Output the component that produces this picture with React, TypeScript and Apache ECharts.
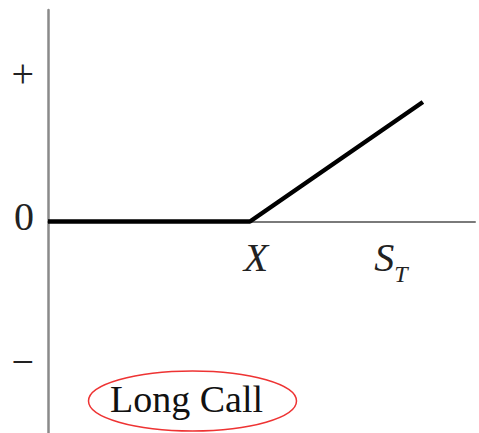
import React, { useEffect, useRef } from "react";
import * as echarts from "echarts";

// Payoff of a long call: flat at 0 until the strike X, then rising
const payoffX = [0, 47.3, 87.8];
const payoffY = [0, 0, 5.65];

// Tick labels (positions along the axes, in data units)
const yTickValues = [-6.6, 0, 7];
const yTickLabels = ["\u2212", "{z|0}", "+"];
const xTickValues = [47.3, 80.3];
const xTickLabels = ["{i|X}", "{s|S}{t|T}"];

const title = "Long Call";

const SERIF = "'Liberation Serif', 'Times New Roman', serif";
const GRID_TOP = 10;
const GRID_BOTTOM = 0;
const H = 433;

export default function App() {
  const ref = useRef<HTMLDivElement>(null);
  useEffect(() => {
    if (!ref.current) return;
    const chart = echarts.init(ref.current, undefined, { renderer: "svg" });
    const yMin = -10;
    const yMax = 10;
    const plotH = H - GRID_TOP - GRID_BOTTOM;
    // distance from grid bottom up to the y = 0 line
    const zeroOffset = (plotH * (0 - yMin)) / (yMax - yMin);
    chart.setOption({
      animation: false,
      backgroundColor: "#ffffff",
      grid: { left: 48, right: 4, top: GRID_TOP, bottom: GRID_BOTTOM, containLabel: false, outerBoundsMode: "none" },
      xAxis: {
        type: "value",
        min: 0,
        max: 100,
        offset: -zeroOffset,
        axisLine: { show: true, onZero: false, lineStyle: { color: "#7a7a7a", width: 2 } },
        axisTick: { show: false },
        splitLine: { show: false },
        axisLabel: {
          show: true,
          customValues: xTickValues,
          margin: 16,
          formatter: (v: number) => {
            const i = xTickValues.findIndex((t) => Math.abs(t - v) < 1e-6);
            return i >= 0 ? xTickLabels[i] : "";
          },
          rich: {
            i: { fontFamily: SERIF, fontStyle: "italic", fontSize: 40, color: "#222", lineHeight: 46, verticalAlign: "top", padding: [0, 0, 0, 12] },
            s: { fontFamily: SERIF, fontStyle: "italic", fontSize: 40, color: "#222", lineHeight: 48, verticalAlign: "top" },
            t: { fontFamily: SERIF, fontStyle: "italic", fontSize: 24, color: "#222", lineHeight: 48, verticalAlign: "bottom" },
          },
        },
      },
      yAxis: {
        type: "value",
        min: yMin,
        max: yMax,
        axisLine: { show: true, lineStyle: { color: "#8a8a8a", width: 2.5 } },
        axisTick: { show: false },
        splitLine: { show: false },
        axisLabel: {
          show: true,
          customValues: yTickValues,
          margin: 14,
          fontFamily: SERIF,
          fontSize: 40,
          color: "#222",
          formatter: (v: number) => {
            const i = yTickValues.findIndex((t) => Math.abs(t - v) < 1e-6);
            return i >= 0 ? yTickLabels[i] : "";
          },
          rich: {
            z: { fontFamily: SERIF, fontSize: 40, color: "#222", padding: [0, 0, 10, 0] },
          },
        },
      },
      series: [
        {
          type: "line",
          data: payoffX.map((x, i) => [x, payoffY[i]]),
          symbol: "none",
          lineStyle: { color: "#000", width: 4.5 },
        },
      ],
      graphic: [
        {
          type: "ellipse",
          shape: { cx: 192.5, cy: 401, rx: 104, ry: 30 },
          style: { fill: "none", stroke: "#ee3333", lineWidth: 1.5 },
        },
        {
          type: "text",
          x: 186.5,
          y: 399,
          style: {
            text: title,
            fontFamily: SERIF,
            fontSize: 38,
            fill: "#111",
            align: "center",
            verticalAlign: "middle",
          },
        },
      ],
    });
    return () => chart.dispose();
  }, []);
  return (
    <div
      ref={ref}
      style={{ position: "fixed", left: 0, top: 0, width: 479, height: 433 }}
    />
  );
}
